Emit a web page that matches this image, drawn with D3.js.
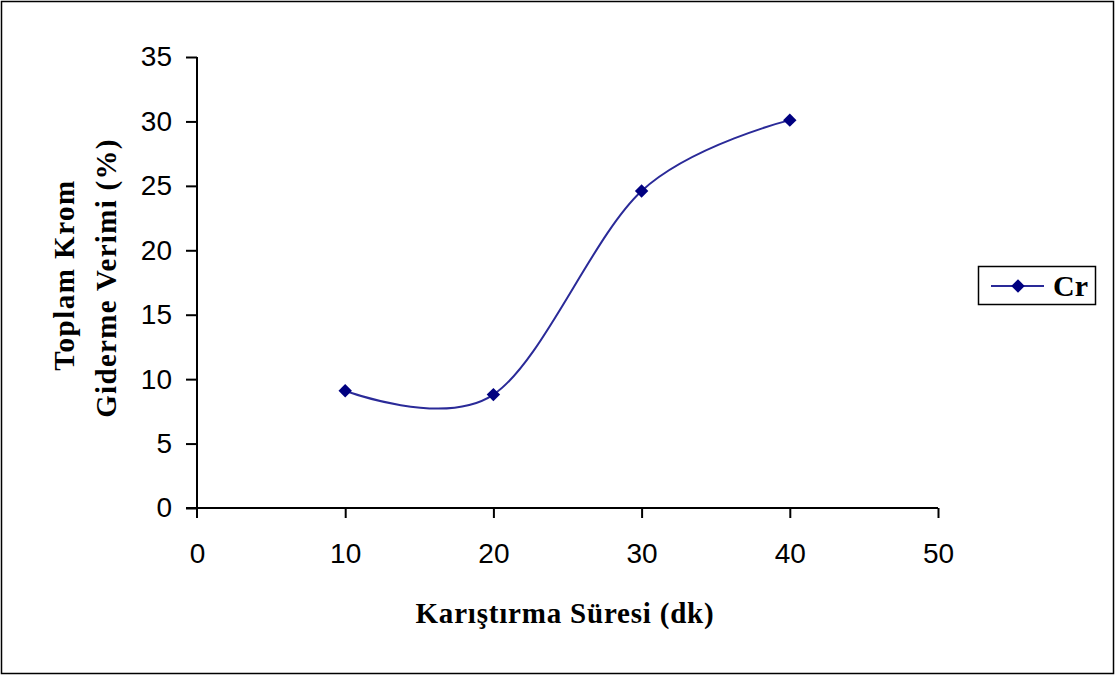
<!DOCTYPE html>
<html>
<head>
<meta charset="utf-8">
<script src="https://cdn.jsdelivr.net/npm/d3@7"></script>
<style>
  html, body { margin: 0; padding: 0; background: #fff; }
  svg { display: block; }
</style>
</head>
<body>
<svg id="chart" width="1115" height="675"></svg>
<script>
// Mixing time (minutes) and total chromium removal efficiency (%)
const mixingTime = [10, 20, 30, 40];
const crRemoval = [9.1, 8.8, 24.6, 30.1];
const xTicks = [0, 10, 20, 30, 40, 50];
const yTicks = [0, 5, 10, 15, 20, 25, 30, 35];
const seriesName = "Cr";

const svg = d3.select("#chart");
const W = 1115, H = 675;

// outer frame
svg.append("rect")
  .attr("x", 1.5).attr("y", 1.5)
  .attr("width", W - 3).attr("height", H - 3)
  .attr("fill", "#fff").attr("stroke", "#000").attr("stroke-width", 1.5);

const plot = { left: 197, right: 938, top: 57, bottom: 508 };

const x = d3.scaleLinear().domain([0, 50]).range([plot.left, plot.right]);
const y = d3.scaleLinear().domain([0, 35]).range([plot.bottom, plot.top]);

const tickFont = "'Liberation Sans', Arial, sans-serif";
const titleFont = "'Liberation Serif', 'Times New Roman', serif";

// y axis
const yAxis = svg.append("g")
  .attr("transform", `translate(${plot.left},0)`)
  .call(d3.axisLeft(y).tickValues(yTicks).tickSize(11).tickPadding(14).tickFormat(d3.format("d")));
// x axis
const xAxis = svg.append("g")
  .attr("transform", `translate(0,${plot.bottom})`)
  .call(d3.axisBottom(x).tickValues(xTicks).tickSize(10).tickPadding(25).tickFormat(d3.format("d")));

[yAxis, xAxis].forEach(g => {
  g.select(".domain").attr("stroke", "#000").attr("stroke-width", 2);
  g.selectAll(".tick line").attr("stroke", "#000").attr("stroke-width", 2);
  g.selectAll(".tick text")
    .attr("fill", "#000")
    .style("font-family", tickFont)
    .style("font-size", "28px")
    .style("font-weight", "300");
});
// axis lines drawn explicitly
yAxis.select(".domain").attr("d", `M0,${plot.top}V${plot.bottom + 10}`);
xAxis.select(".domain").attr("d", `M${plot.left - 11},0H${plot.right}`);
xAxis.select(".tick:first-of-type line").remove();

// series line (smoothed)
const line = d3.line()
  .x((d, i) => x(mixingTime[i]))
  .y(d => y(d))
  .curve(d3.curveCatmullRom.alpha(0));

svg.append("path")
  .datum(crRemoval)
  .attr("d", line)
  .attr("fill", "none")
  .attr("stroke", "#2a2a98")
  .attr("stroke-width", 2);

// diamond markers
const diamond = d3.symbol().type(d3.symbolDiamond2).size(115);
svg.selectAll(".marker")
  .data(crRemoval)
  .join("path")
  .attr("class", "marker")
  .attr("transform", (d, i) => `translate(${x(mixingTime[i])},${y(d)})`)
  .attr("d", diamond)
  .attr("fill", "#000080");

// axis titles
const titleStyle = sel => sel
  .style("font-family", titleFont)
  .style("font-weight", "bold")
  .style("font-size", "29px")
  .style("letter-spacing", "0.8px");

svg.append("text")
  .attr("x", 565)
  .attr("y", 623)
  .attr("text-anchor", "middle")
  .call(titleStyle)
  .text("Karıştırma Süresi (dk)");

const yTitle = svg.append("g").attr("transform", "rotate(-90)");
yTitle.append("text")
  .attr("x", -275).attr("y", 74)
  .attr("text-anchor", "middle")
  .call(titleStyle)
  .style("letter-spacing", "1.5px")
  .text("Toplam Krom");
yTitle.append("text")
  .attr("x", -278).attr("y", 116)
  .attr("text-anchor", "middle")
  .call(titleStyle)
  .style("letter-spacing", "1.3px")
  .text("Giderme Verimi (%)");

// legend
const lg = svg.append("g").attr("transform", "translate(978,266)");
lg.append("rect")
  .attr("x", 0.5).attr("y", 0.5)
  .attr("width", 117).attr("height", 38)
  .attr("fill", "#fff").attr("stroke", "#000").attr("stroke-width", 1.5);
lg.append("line")
  .attr("x1", 13).attr("x2", 66).attr("y1", 20).attr("y2", 20)
  .attr("stroke", "#2a2a98").attr("stroke-width", 2);
lg.append("path")
  .attr("transform", "translate(40,20)")
  .attr("d", diamond)
  .attr("fill", "#000080");
lg.append("text")
  .attr("x", 75).attr("y", 30)
  .call(titleStyle)
  .style("font-size", "30px")
  .style("letter-spacing", "0px")
  .text(seriesName);
</script>
</body>
</html>
